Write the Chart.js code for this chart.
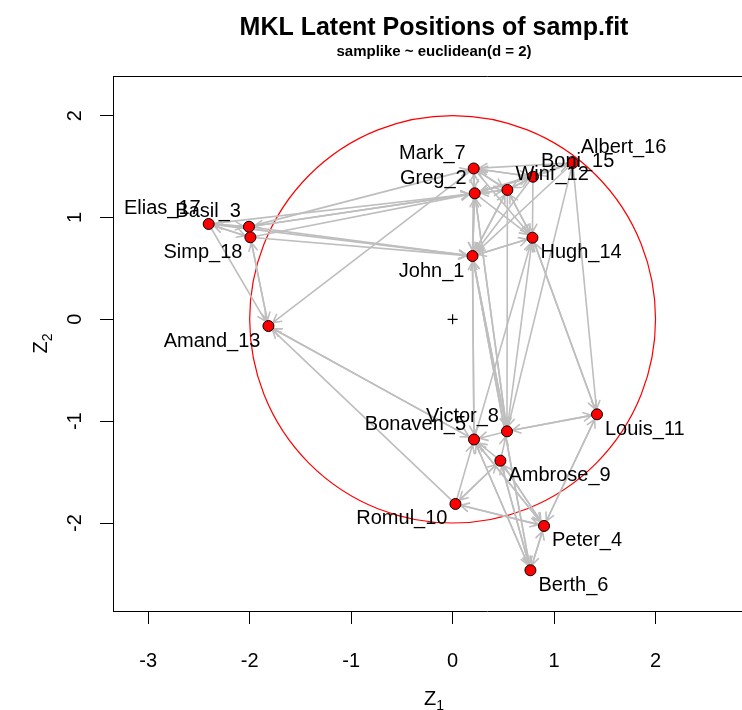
<!DOCTYPE html>
<html>
<head>
<meta charset="utf-8">
<script src="https://cdn.jsdelivr.net/npm/chart.js@4.4.1/dist/chart.umd.min.js"></script>
<style>
  html, body { margin: 0; padding: 0; background: #fff; overflow: hidden; }
  #wrap { width: 868px; height: 710px; }
</style>
</head>
<body>
<div id="wrap"><canvas id="latentChart" width="868" height="710"></canvas></div>
<script>
// node names and their MKL latent positions
const names = ['John_1', 'Greg_2', 'Basil_3', 'Peter_4', 'Bonaven_5', 'Berth_6', 'Mark_7', 'Victor_8', 'Ambrose_9',
    'Romul_10', 'Louis_11', 'Winf_12', 'Amand_13', 'Hugh_14', 'Boni_15', 'Albert_16', 'Elias_17', 'Simp_18'];
const z1 = [0.196, 0.218, -2.007, 0.901, 0.211, 0.767, 0.208, 0.536, 0.471,
    0.028, 1.423, 0.540, -1.815, 0.787, 0.792, 1.184, -2.404, -1.993];
const z2 = [0.621, 1.237, 0.909, -2.029, -1.180, -2.464, 1.481, -1.100, -1.388,
    -1.813, -0.933, 1.270, -0.066, 0.801, 1.400, 1.535, 0.936, 0.805];

// directed ties (1-based, sender -> receiver)
const edgeFrom = [1, 1, 1, 1, 1, 1, 2, 2, 2, 2, 2, 2, 2, 3, 3, 3, 3, 3, 4, 4, 4, 4, 4, 5, 5, 5, 5, 5,
    6, 6, 6, 6, 7, 7, 7, 7, 7, 7, 8, 8, 8, 8, 8, 9, 9, 9, 9, 9, 10, 10, 10, 10, 11, 11, 11,
    12, 12, 12, 12, 12, 12, 13, 13, 14, 14, 14, 15, 15, 15, 15, 15, 15, 16, 16, 16, 16, 16, 16,
    17, 17, 17, 17, 17, 18, 18, 18, 18, 18];
const edgeTo = [2, 12, 14, 5, 8, 6, 1, 7, 12, 14, 15, 3, 8, 17, 18, 2, 1, 7, 5, 6, 11, 10, 9, 1, 4, 6, 13, 14,
    4, 5, 1, 9, 2, 12, 15, 1, 13, 14, 1, 2, 5, 11, 14, 5, 8, 6, 4, 10, 5, 9, 13, 4, 8, 4, 14,
    2, 7, 15, 1, 14, 8, 18, 5, 1, 11, 12, 7, 2, 12, 16, 14, 1, 7, 2, 15, 1, 11, 8,
    3, 18, 1, 2, 13, 17, 3, 2, 1, 13];

const xTicks = [-3, -2, -1, 0, 1, 2];
const yTicks = [-2, -1, 0, 1, 2];
const circleRadius = 2;

// which corner of the point each label sits at
const labelSide = ['ll', 'ul', 'ul', 'lr', 'ul', 'lr', 'ul', 'ul', 'lr',
    'll', 'lr', 'ur', 'll', 'lr', 'ur', 'ur', 'ul', 'll'];

const FONT = "'Liberation Sans', Arial, Helvetica, sans-serif";
const EDGE_COLOR = '#bebebe';
const NODE_R = 5.5;

function drawArrow(ctx, ax, ay, bx, by) {
    const dx = bx - ax, dy = by - ay;
    const len = Math.hypot(dx, dy);
    const ux = dx / len, uy = dy / len;
    const sx = ax + ux * NODE_R, sy = ay + uy * NODE_R;
    const ex = bx - ux * NODE_R, ey = by - uy * NODE_R;
    ctx.beginPath();
    ctx.moveTo(sx, sy);
    ctx.lineTo(ex, ey);
    const head = 9, ang = 28 * Math.PI / 180;
    const base = Math.atan2(uy, ux);
    ctx.moveTo(ex - head * Math.cos(base - ang), ey - head * Math.sin(base - ang));
    ctx.lineTo(ex, ey);
    ctx.lineTo(ex - head * Math.cos(base + ang), ey - head * Math.sin(base + ang));
    ctx.stroke();
}

function drawSubscripted(ctx, main, sub, cx, baseline) {
    ctx.font = '20px ' + FONT;
    const w1 = ctx.measureText(main).width;
    ctx.font = '14px ' + FONT;
    const w2 = ctx.measureText(sub).width;
    const left = cx - (w1 + w2) / 2;
    ctx.textAlign = 'left';
    ctx.textBaseline = 'alphabetic';
    ctx.font = '20px ' + FONT;
    ctx.fillText(main, left, baseline);
    ctx.font = '14px ' + FONT;
    ctx.fillText(sub, left + w1, baseline + 5);
}

const networkLayers = {
    id: 'networkLayers',
    beforeDatasetsDraw(chart) {
        const ctx = chart.ctx;
        const xs = chart.scales.x, ys = chart.scales.y;
        const area = chart.chartArea;
        ctx.save();
        ctx.beginPath();
        ctx.rect(area.left, area.top, area.right - area.left, area.bottom - area.top);
        ctx.clip();

        // red circle around the origin
        const cx = xs.getPixelForValue(0), cy = ys.getPixelForValue(0);
        const rx = xs.getPixelForValue(circleRadius) - cx;
        const ry = cy - ys.getPixelForValue(circleRadius);
        ctx.strokeStyle = '#ff0000';
        ctx.lineWidth = 1.2;
        ctx.beginPath();
        ctx.ellipse(cx, cy, rx, ry, 0, 0, Math.PI * 2);
        ctx.stroke();

        // + at the centre
        ctx.strokeStyle = '#000';
        ctx.lineWidth = 1.2;
        ctx.beginPath();
        ctx.moveTo(cx - 5, cy); ctx.lineTo(cx + 5, cy);
        ctx.moveTo(cx, cy - 5); ctx.lineTo(cx, cy + 5);
        ctx.stroke();

        // ties
        ctx.strokeStyle = EDGE_COLOR;
        ctx.lineWidth = 1.6;
        ctx.lineCap = 'round';
        ctx.lineJoin = 'round';
        for (let i = 0; i < edgeFrom.length; i++) {
            const a = edgeFrom[i] - 1, b = edgeTo[i] - 1;
            drawArrow(ctx,
                xs.getPixelForValue(z1[a]), ys.getPixelForValue(z2[a]),
                xs.getPixelForValue(z1[b]), ys.getPixelForValue(z2[b]));
        }
        ctx.restore();
    },
    afterDatasetsDraw(chart) {
        const ctx = chart.ctx;
        const xs = chart.scales.x, ys = chart.scales.y;
        const area = chart.chartArea;
        ctx.save();

        // node labels
        ctx.fillStyle = '#000';
        ctx.font = '20px ' + FONT;
        ctx.textBaseline = 'middle';
        names.forEach((name, i) => {
            const px = xs.getPixelForValue(z1[i]);
            const py = ys.getPixelForValue(z2[i]);
            const side = labelSide[i];
            const right = side[1] === 'r';
            const up = side[0] === 'u';
            ctx.textAlign = right ? 'left' : 'right';
            ctx.fillText(name, px + (right ? 8 : -8), py + (up ? -15 : 15));
        });

        // top border of the box
        ctx.strokeStyle = '#000';
        ctx.lineWidth = 1;
        ctx.beginPath();
        ctx.moveTo(area.left, area.top + 0.5);
        ctx.lineTo(area.right, area.top + 0.5);
        ctx.stroke();

        // y tick labels, rotated like R
        ctx.font = '20px ' + FONT;
        ctx.textAlign = 'center';
        ctx.textBaseline = 'middle';
        yTicks.forEach(v => {
            const py = ys.getPixelForValue(v);
            ctx.save();
            ctx.translate(75, py);
            ctx.rotate(-Math.PI / 2);
            ctx.fillText(String(v), 0, 0);
            ctx.restore();
        });

        // axis titles
        drawSubscripted(ctx, 'Z', '1', 434, 705);
        ctx.save();
        ctx.translate(47, (area.top + area.bottom) / 2);
        ctx.rotate(-Math.PI / 2);
        drawSubscripted(ctx, 'Z', '2', 0, 0);
        ctx.restore();

        ctx.restore();
    }
};

const chart = new Chart(document.getElementById('latentChart'), {
    type: 'scatter',
    data: {
        datasets: [{
            data: names.map((n, i) => ({ x: z1[i], y: z2[i] })),
            pointRadius: NODE_R,
            pointHoverRadius: NODE_R,
            backgroundColor: '#ff0000',
            borderColor: '#000',
            borderWidth: 1
        }]
    },
    options: {
        responsive: false,
        animation: false,
        layout: { padding: 0 },
        plugins: {
            legend: { display: false },
            tooltip: { enabled: false },
            title: {
                display: true,
                text: 'MKL Latent Positions of samp.fit',
                color: '#000',
                font: { family: FONT, size: 25, weight: 'bold' },
                padding: { top: 13, bottom: 0 }
            },
            subtitle: {
                display: true,
                text: 'samplike ~ euclidean(d = 2)',
                color: '#000',
                font: { family: FONT, size: 15, weight: 'bold' },
                padding: { top: 0, bottom: 15 }
            }
        },
        scales: {
            x: {
                type: 'linear',
                min: -3.347,
                max: 4.030,
                afterBuildTicks: s => { s.ticks = xTicks.map(v => ({ value: v })); },
                afterFit: s => { s.height = 99; },
                grid: { drawOnChartArea: false, drawTicks: true, tickLength: 13, color: '#000', lineWidth: 1 },
                border: { display: true, color: '#000', width: 1 },
                ticks: {
                    color: '#000',
                    font: { family: FONT, size: 20 },
                    padding: 25,
                    maxRotation: 0,
                    autoSkip: false
                }
            },
            y: {
                type: 'linear',
                min: -2.864,
                max: 2.389,
                afterBuildTicks: s => { s.ticks = yTicks.map(v => ({ value: v })); },
                afterFit: s => { s.width = 113; },
                grid: { drawOnChartArea: false, drawTicks: true, tickLength: 13, color: '#000', lineWidth: 1 },
                border: { display: true, color: '#000', width: 1 },
                ticks: { display: false }
            }
        }
    },
    plugins: [networkLayers]
});
</script>
</body>
</html>
